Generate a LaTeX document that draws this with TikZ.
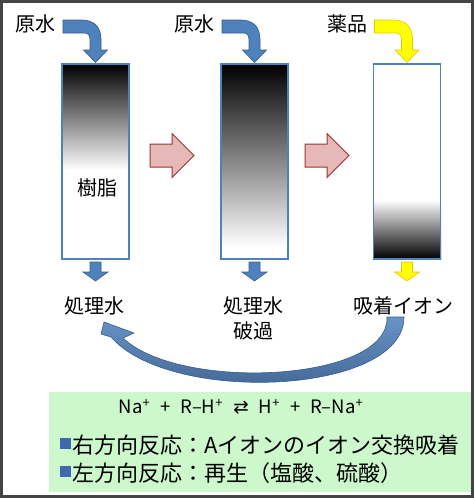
\documentclass[tikz,border=0pt]{standalone}
\usepackage{fontspec}
\setmainfont{Noto Sans CJK JP}
\newfontfamily\dv{DejaVu Sans}
\definecolor{arrblue}{HTML}{4F81BD}
\definecolor{arrblueD}{HTML}{385D8A}
\definecolor{arryel}{HTML}{FFFF00}
\definecolor{arryelD}{HTML}{F2C200}
\definecolor{redF}{HTML}{E6B9B8}
\definecolor{redD}{HTML}{953735}
\definecolor{boxgreen}{HTML}{CCF8CC}
\definecolor{sqblue}{HTML}{3F68AE}
\definecolor{frame}{HTML}{444444}
\newcommand{\sep}{\hspace{0.55em}}
\begin{document}
\begin{tikzpicture}[x=1pt,y=-1pt,
  lbl/.style={font=\fontsize{20}{24}\selectfont, inner sep=0pt, anchor=base},
  boxtxt/.style={font=\fontsize{22}{26}\selectfont, inner sep=0pt, anchor=base west},
  colbox/.style={draw=arrblue, line width=1.3pt, minimum width=67pt, minimum height=195pt, inner sep=0pt},
  bluearr/.style={fill=arrblue, draw=arrblueD, line width=0.6pt},
  yelarr/.style={fill=arryel, draw=arryelD, line width=0.6pt},
  redarr/.style={fill=redF, draw=redD, line width=1pt, line join=miter},
  bent/.pic={\path[pic actions] (-32.5,-42.5) -- (-13.5,-42.5) .. controls (-1.5,-42.5) and (5.5,-35.5) .. (5.5,-23.5)
      -- (5.5,-12.5) -- (12,-12.5) -- (0,0) -- (-12,-12.5) -- (-5.5,-12.5) -- (-5.5,-22.5)
      .. controls (-5.5,-27.5) and (-7.5,-29.5) .. (-11.5,-29.5) -- (-32.5,-29.5) -- cycle;},
  down/.pic={\path[pic actions] (-5.5,0) -- (5.5,0) -- (5.5,10) -- (12.5,10) -- (0,19) -- (-12.5,10) -- (-5.5,10) -- cycle;},
  block/.pic={\path[pic actions] (0,-11.5) -- (22,-11.5) -- (22,-22) -- (44,0) -- (22,22) -- (22,11.5) -- (0,11.5) -- cycle;}
]
\useasboundingbox (0,0) rectangle (474,498);
\fill[white] (0,0) rectangle (474,498);

% columns shading
\shade[top color=black, bottom color=white] (62,64) rectangle (129,170);
\shade[top color=black, bottom color=white] (221,64) rectangle (288,247);
\shade[top color=white, bottom color=black] (373,200) rectangle (441,259);
\node[colbox] (c1) at (95.5,161.5) {};
\node[colbox] (c2) at (254.5,161.5) {};
\node[colbox] (c3) at (407,161.5) {};

% bent input arrows
\pic[bluearr] at (95.5,62.5) {bent};
\pic[bluearr] at (254.5,62.5) {bent};
\pic[yelarr] at (407,62.5) {bent};

% down outlet arrows
\pic[bluearr] at (95.5,262) {down};
\pic[bluearr] at (254.5,262) {down};
\pic[yelarr] at (407,262) {down};

% red block arrows
\pic[redarr] at (150,155.5) {block};
\pic[redarr] at (305,155.5) {block};

% labels
\node[lbl] (l1) at (35,31) {原水};
\node[lbl] (l2) at (194,31) {原水};
\node[lbl] (l3) at (347.5,31) {薬品};
\node[lbl] (r1) at (97,195) {樹脂};
\node[lbl] (o1) at (94,313) {処理水};
\node[lbl] (o2) at (253,313) {処理水};
\node[lbl] (o2b) at (253,338.5) {破過};
\node[lbl] (o3) at (403,313) {吸着イオン};

% big return arrow
\shade[top color=arrblue!85!white, bottom color=arrblueD, draw=arrblueD, line width=0.6pt]
  (404,317) .. controls (404,395) and (170,405) .. (111,337)
  -- (101,334) -- (104,322) -- (134,333) -- (123,338)
  .. controls (180,392) and (390,382) .. (387,317) -- cycle;

% green box
\fill[boxgreen] (49,392) rectangle (472,492);
\node[font=\fontsize{18.5}{20}\selectfont, inner sep=0pt, anchor=base] (eq) at (241,413.5)
  {Na\textsuperscript{+}\sep+\sep R–H\textsuperscript{+}\sep{\dv ⇄}\sep H\textsuperscript{+}\sep+\sep R–Na\textsuperscript{+}};
\fill[sqblue] (60,438) rectangle (71,449);
\fill[sqblue] (60,466) rectangle (71,477);
\node[boxtxt] (t1) at (72,453) {右方向反応：Aイオンのイオン交換吸着};
\node[boxtxt] (t2) at (72,481.5) {左方向反応：再生（塩酸、硫酸）};

% frame
\draw[frame, line width=2.6pt] (1.3,1.3) rectangle (472.7,496.5);
\end{tikzpicture}
\end{document}
